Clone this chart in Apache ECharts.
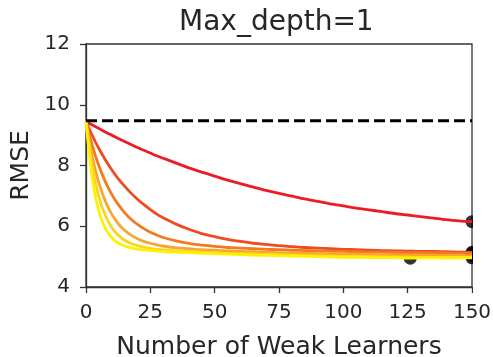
<!DOCTYPE html>
<html>
<head>
<meta charset="utf-8">
<script src="https://cdn.jsdelivr.net/npm/echarts@6/dist/echarts.min.js"></script>
<style>
html,body{margin:0;padding:0;background:#fff;}
#chart{width:493px;height:357px;}
</style>
</head>
<body>
<div id="chart"></div>
<script>
const titleText = 'Max_depth=1';
const xAxisName = 'Number of Weak Learners';
const yAxisName = 'RMSE';
const xTicks = [0, 25, 50, 75, 100, 125, 150];
const yTicks = [4, 6, 8, 10, 12];

const xs = [0, 2.5, 5, 7.5, 10, 12.5, 15, 17.5, 20, 22.5, 25, 27.5, 30, 35, 40, 45, 50, 55, 60, 65, 70, 75, 80, 85, 90, 95, 100, 105, 110, 115, 120, 125, 130, 135, 140, 145, 150];
const rmseRed = [9.45, 9.33, 9.22, 9.10, 9.00, 8.89, 8.79, 8.69, 8.59, 8.50, 8.41, 8.32, 8.24, 8.08, 7.92, 7.78, 7.65, 7.52, 7.40, 7.29, 7.18, 7.08, 6.99, 6.90, 6.82, 6.74, 6.67, 6.60, 6.54, 6.48, 6.42, 6.37, 6.32, 6.27, 6.22, 6.18, 6.15];
const rmseRedOrange = [9.45, 8.98, 8.56, 8.19, 7.86, 7.57, 7.32, 7.09, 6.89, 6.71, 6.55, 6.40, 6.28, 6.07, 5.90, 5.76, 5.66, 5.57, 5.50, 5.44, 5.40, 5.36, 5.33, 5.30, 5.28, 5.26, 5.24, 5.23, 5.21, 5.20, 5.19, 5.18, 5.17, 5.17, 5.16, 5.15, 5.14];
const rmseOrange = [9.45, 8.64, 7.99, 7.47, 7.05, 6.72, 6.45, 6.23, 6.06, 5.92, 5.80, 5.71, 5.63, 5.52, 5.44, 5.38, 5.34, 5.30, 5.28, 5.26, 5.24, 5.23, 5.21, 5.20, 5.19, 5.18, 5.17, 5.16, 5.15, 5.15, 5.14, 5.13, 5.13, 5.12, 5.12, 5.11, 5.11];
const rmseLightOrange = [9.45, 8.27, 7.43, 6.83, 6.40, 6.09, 5.87, 5.71, 5.59, 5.50, 5.44, 5.39, 5.35, 5.29, 5.26, 5.23, 5.21, 5.19, 5.17, 5.16, 5.15, 5.13, 5.12, 5.11, 5.10, 5.09, 5.09, 5.08, 5.07, 5.06, 5.06, 5.05, 5.05, 5.04, 5.04, 5.03, 5.03];
const rmseGold = [9.45, 7.92, 6.97, 6.36, 5.96, 5.71, 5.54, 5.43, 5.36, 5.31, 5.27, 5.24, 5.22, 5.19, 5.17, 5.15, 5.13, 5.11, 5.10, 5.09, 5.07, 5.06, 5.05, 5.04, 5.03, 5.02, 5.01, 5.01, 5.00, 4.99, 4.99, 4.98, 4.97, 4.97, 4.96, 4.96, 4.96];
const rmseYellow = [9.45, 7.53, 6.49, 5.93, 5.62, 5.45, 5.35, 5.29, 5.25, 5.22, 5.21, 5.18, 5.17, 5.15, 5.13, 5.11, 5.10, 5.08, 5.07, 5.05, 5.04, 5.03, 5.02, 5.01, 5.00, 4.99, 4.98, 4.98, 4.97, 4.97, 4.96, 4.95, 4.96, 4.96, 4.96, 4.97, 4.97];

const baselineX = [0, 150];
const baselineY = [9.47, 9.47];

const minX = [150, 150, 150, 150, 150, 126];
const minY = [6.15, 5.14, 5.11, 5.03, 4.96, 4.95];

const curves = [rmseRed, rmseRedOrange, rmseOrange, rmseLightOrange, rmseGold, rmseYellow];
const colors = ['#ec1c24', '#f04a22', '#f47a20', '#f8a630', '#fbd320', '#fff200'];

const chart = echarts.init(document.getElementById('chart'), null, {renderer: 'canvas'});
const font = 'DejaVu Sans';
const txt = '#262626';

const series = [];
series.push({
  type: 'scatter',
  data: minX.map((x, i) => [x, minY[i]]),
  symbol: 'circle',
  symbolSize: 13,
  itemStyle: {color: '#000'},
  z: 1,
  clip: true
});
curves.forEach((c, k) => {
  series.push({
    type: 'line',
    data: xs.map((x, i) => [x, c[i]]),
    showSymbol: false,
    smooth: 0.3,
    lineStyle: {color: colors[k], width: 2.8},
    z: 2 + k,
    clip: true
  });
});
series.push({
  type: 'line',
  data: baselineX.map((x, i) => [x, baselineY[i]]),
  showSymbol: false,
  lineStyle: {color: '#000', width: 3, type: [11, 5]},
  z: 10
});

chart.setOption({
  animation: false,
  backgroundColor: '#fff',
  graphic: [{
    type: 'text',
    left: 279 - 100,
    top: 9,
    style: {
      text: titleText,
      x: 0, y: 0,
      width: 200,
      align: 'center',
      font: '28px "DejaVu Sans"',
      fill: txt
    }
  }, {
    type: 'rect',
    shape: {x: 473, y: 30, width: 20, height: 262},
    style: {fill: '#fff'},
    z: 100
  }],
  grid: {
    left: 86, right: 21, top: 44, bottom: 70,
    outerBoundsMode: 'none',
    containLabel: false,
    show: true, borderColor: '#333', borderWidth: 1.3, backgroundColor: 'transparent'
  },
  xAxis: {
    type: 'value',
    min: 0, max: 150, interval: 25,
    name: xAxisName,
    nameLocation: 'middle',
    nameGap: 48,
    nameTextStyle: {fontFamily: font, fontSize: 25, color: txt},
    axisLine: {show: true, lineStyle: {color: '#333', width: 1.3}},
    axisTick: {show: true, length: 6, lineStyle: {color: '#333', width: 1.3}},
    axisLabel: {fontFamily: font, fontSize: 20, color: txt, margin: 16,
      formatter: v => xTicks.includes(v) ? String(v) : ''},
    splitLine: {show: false}
  },
  yAxis: {
    type: 'value',
    min: 4, max: 12, interval: 2,
    name: yAxisName,
    nameLocation: 'middle',
    nameGap: 52,
    nameTextStyle: {fontFamily: font, fontSize: 25, color: txt},
    axisLine: {show: true, lineStyle: {color: '#333', width: 1.3}},
    axisTick: {show: true, length: 6, lineStyle: {color: '#333', width: 1.3}},
    axisLabel: {fontFamily: font, fontSize: 20, color: txt, margin: 16,
      formatter: v => yTicks.includes(v) ? String(v) : ''},
    splitLine: {show: false}
  },
  series: series
});
</script>
</body>
</html>
